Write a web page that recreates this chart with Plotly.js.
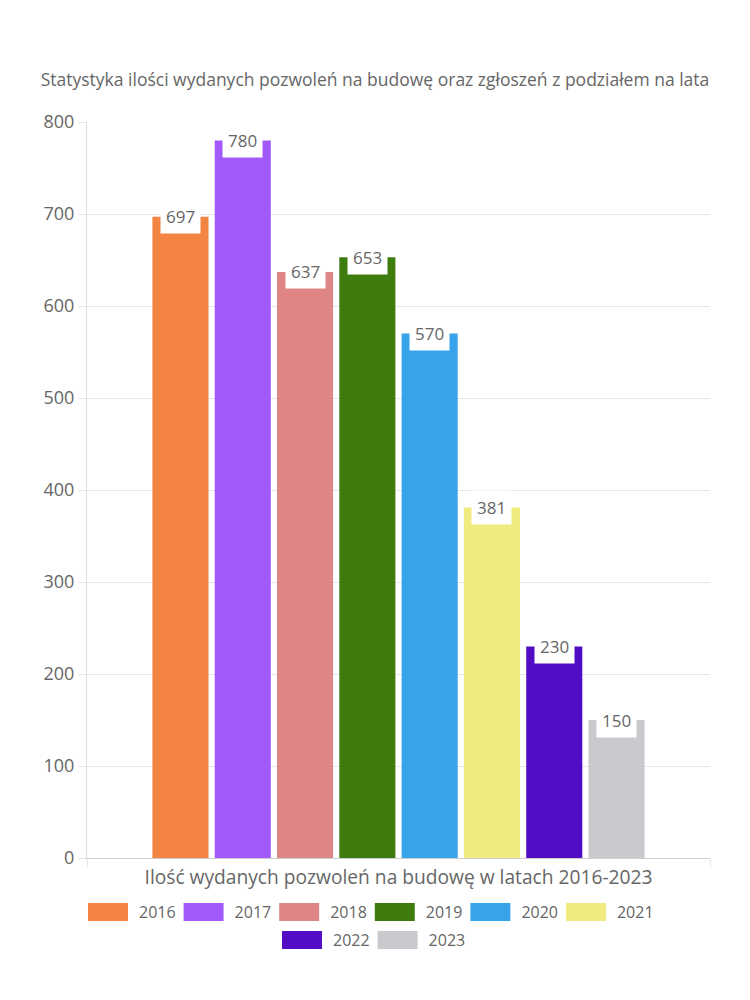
<!DOCTYPE html>
<html>
<head>
<meta charset="utf-8">
<script src="https://cdn.plot.ly/plotly-3.0.1.min.js"></script>
<style>html,body{margin:0;padding:0;background:#fff;}#chart{width:750px;height:1000px;}</style>
</head>
<body>
<div id="chart"></div>
<script>
const years = ['2016', '2017', '2018', '2019', '2020', '2021', '2022', '2023'];
const values = [697, 780, 637, 653, 570, 381, 230, 150];
const colors = ['#F48442', '#A25AFD', '#E08585', '#3E7C0E', '#37A3EB', '#F0EB7E', '#520CC4', '#C9CACD'];
const category = ['Ilość wydanych pozwoleń na budowę w latach 2016-2023'];
const yTicks = [0, 100, 200, 300, 400, 500, 600, 700, 800];

const FONT = '"Open Sans", sans-serif';
const TXT = '#666666';
const BARGAP = 0.2, GROUPGAP = 0.1;

const traces = years.map((y, i) => ({
  type: 'bar',
  name: y,
  x: category,
  y: [values[i]],
  marker: {color: colors[i]},
  legend: i < 6 ? 'legend' : 'legend2',
  hoverinfo: 'name+y'
}));

const n = years.length;
const slot = (1 - BARGAP) / n;
const annotations = values.map((v, i) => ({
  x: -(1 - BARGAP) / 2 + slot * (i + 0.5),
  y: v,
  xref: 'x', yref: 'y',
  text: String(v),
  showarrow: false,
  yanchor: 'middle',
  xanchor: 'center',
  bgcolor: '#ffffff',
  borderpad: 5,
  font: {family: FONT, size: 17, color: TXT}
}));

const legendCommon = {
  orientation: 'h',
  xref: 'container', yref: 'container',
  xanchor: 'center', yanchor: 'middle',
  font: {family: FONT, size: 16, color: TXT},
  itemwidth: 44,
  itemclick: false, itemdoubleclick: false,
  bgcolor: 'rgba(0,0,0,0)'
};

const layout = {
  width: 750, height: 1000,
  margin: {l: 87, r: 40, t: 122, b: 142},
  paper_bgcolor: '#ffffff', plot_bgcolor: '#ffffff',
  font: {family: FONT, color: TXT},
  title: {
    text: 'Statystyka ilości wydanych pozwoleń na budowę oraz zgłoszeń z podziałem na lata',
    x: 0.5, xref: 'container', xanchor: 'center',
    y: 0.92, yref: 'container', yanchor: 'middle',
    font: {family: FONT, size: 17.5, color: TXT}
  },
  barmode: 'group',
  bargap: BARGAP, bargroupgap: GROUPGAP,
  xaxis: {
    type: 'category',
    showticklabels: false,
    tickson: 'boundaries',
    ticks: 'outside', ticklen: 8, tickcolor: '#e6e6e6',
    showgrid: true, gridcolor: '#e6e6e6',
    showline: true, linecolor: '#cfcfcf',
    zeroline: false,
    title: {text: category[0], standoff: 12, font: {family: FONT, size: 19.2, color: TXT}},
    automargin: false
  },
  yaxis: {
    range: [0, 800],
    tickvals: yTicks,
    ticks: 'outside', ticklen: 8, tickcolor: '#e6e6e6',
    showgrid: true, gridcolor: '#e6e6e6',
    showline: true, linecolor: '#dcdcdc',
    zeroline: false,
    tickfont: {family: FONT, size: 18, color: TXT},
    automargin: false
  },
  showlegend: true,
  legend: Object.assign({}, legendCommon, {x: 0.496, y: 0.088}),
  legend2: Object.assign({}, legendCommon, {x: 0.5, y: 0.060}),
  annotations: annotations
};

function styleSwatches(gd) {
  gd.querySelectorAll('.legendpoints path').forEach(p => {
    const t = p.closest('.traces');
    if (!t) return;
    const txt = t.querySelector('text');
    if (!txt) return;
    const tx = parseFloat(txt.getAttribute('x')) || 40;
    p.setAttribute('transform', 'translate(' + (tx - 31) + ',0) scale(3.33,1.5)');
    p.style.strokeWidth = '0';
    let g = p.parentNode;
    while (g && g !== t) { g.removeAttribute('transform'); g = g.parentNode; }
  });
}

const gdEl = document.getElementById('chart');
Plotly.newPlot(gdEl, traces, layout, {displayModeBar: false, staticPlot: true}).then(gd => {
  styleSwatches(gd);
  gd.on('plotly_afterplot', () => styleSwatches(gd));
  setTimeout(() => styleSwatches(gd), 50);
  setTimeout(() => styleSwatches(gd), 300);
});
</script>
</body>
</html>
